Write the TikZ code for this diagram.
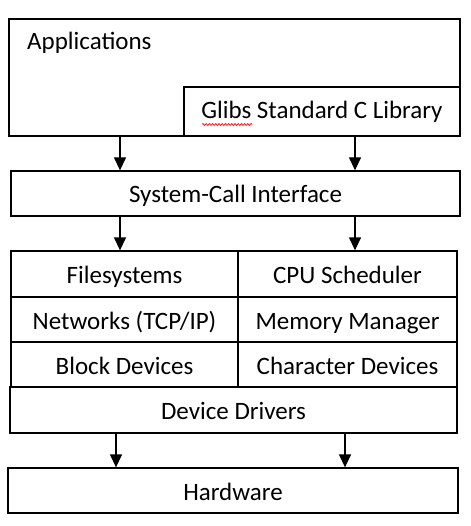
\documentclass[tikz,border=0pt]{standalone}
\usepackage{fontspec}
\setmainfont{Carlito}
\usetikzlibrary{arrows.meta,decorations.pathmorphing}
\tikzset{
  box/.style={draw=black, line width=1.3pt, fill=white, inner sep=0pt, text height=23pt, text depth=4pt, font=\fontsize{25}{30}\selectfont},
  lbl/.style={inner sep=0pt, font=\fontsize{25}{30}\selectfont},
  arr/.style={line width=1.3pt, -{Triangle[width=12pt,length=13pt]}},
}
\begin{document}
\begin{tikzpicture}[x=1pt,y=-1pt]
\useasboundingbox (0,0) rectangle (470,526);
% Applications
\node[box, minimum width=451pt, minimum height=117pt] (app) at (234.5,77.5) {};
\node[lbl, anchor=base west] (apptxt) at (27,50) {Applications};
\node[box, minimum width=276pt, minimum height=49pt, text height=20pt, text depth=5pt] (glibc) at (322,111.5) {Glibs Standard C Library};
\draw[red, line width=0.7pt, decorate, decoration={snake, amplitude=1pt, segment length=3.2pt}] (202,124.5) -- (252,124.5);
% System call
\node[box, minimum width=449pt, minimum height=45pt] (sci) at (235.5,193.5) {System-Call Interface};
% grid
\node[box, minimum width=227pt, minimum height=46pt] (fs) at (124.5,274) {Filesystems};
\node[box, minimum width=219pt, minimum height=46pt] (cpu) at (347.5,274) {CPU Scheduler};
\node[box, minimum width=227pt, minimum height=45pt] (net) at (124.5,319.5) {Networks (TCP/IP)};
\node[box, minimum width=219pt, minimum height=45pt] (mem) at (347.5,319.5) {Memory Manager};
\node[box, minimum width=227pt, minimum height=45pt] (blk) at (124.5,364.5) {Block Devices};
\node[box, minimum width=219pt, minimum height=45pt] (chr) at (347.5,364.5) {Character Devices};
\node[box, minimum width=447pt, minimum height=46pt] (dd) at (233.5,410) {Device Drivers};
\node[box, minimum width=450pt, minimum height=45pt] (hw) at (233,490.5) {Hardware};
% arrow columns
\coordinate (c1) at (120,0);
\coordinate (c2) at (355,0);
\coordinate (c3) at (116,0);
\coordinate (c4) at (345,0);
\draw[arr] (app.south -| c1) -- (sci.north -| c1);
\draw[arr] (glibc.south -| c2) -- (sci.north -| c2);
\draw[arr] (sci.south -| c1) -- (fs.north -| c1);
\draw[arr] (sci.south -| c2) -- (cpu.north -| c2);
\draw[arr] (dd.south -| c3) -- (hw.north -| c3);
\draw[arr] (dd.south -| c4) -- (hw.north -| c4);
\end{tikzpicture}
\end{document}
